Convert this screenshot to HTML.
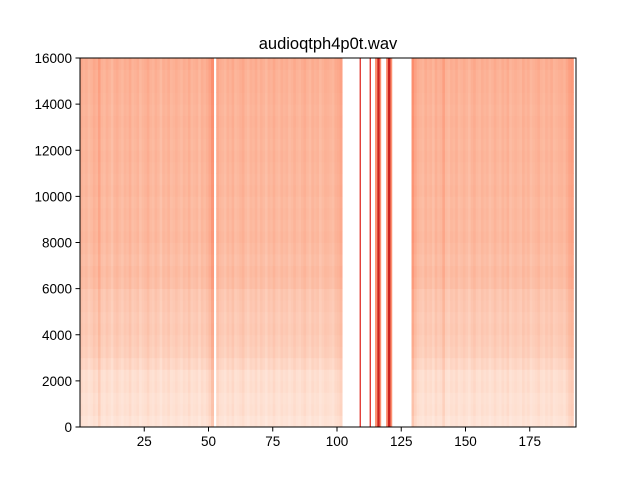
<!DOCTYPE html>
<html><head><meta charset="utf-8"><style>
body{margin:0;background:#fff;}
svg text{font-family:"Liberation Sans","DejaVu Sans",sans-serif;fill:#000;}
</style></head><body>
<svg id="chart" width="640" height="480" viewBox="0 0 640 480" xmlns="http://www.w3.org/2000/svg">
<rect width="640" height="480" fill="#fff"/>
<text x="328" y="49" font-size="16.5" text-anchor="middle">audioqtph4p0t.wav</text>
<g id="cells"></g>
<g id="events"></g>
<g id="axes"></g>
</svg>
<script>
// time-column intensity offsets (null = silence / white gap)
const colOffset = [0.05,0,0.02,-0.03,0,0.05,0.02,0.12,0,-0.02,0.03,0,-0.05,0.02,0.04,0,-0.03,0.02,0,0.05,-0.02,0,0.03,-0.04,0,0.02,0.06,0,-0.02,0.03,0,-0.05,0.02,0,0.04,-0.02,0,0.03,0,-0.03,0.02,0,0.05,-0.02,0,0.02,-0.04,0.03,0,0.04,0.1,
0.22,null,
0.08,0.02,0,-0.03,0.03,0,0.05,-0.02,0,0.03,0.06,0,-0.03,0.02,0,0.04,-0.02,0.03,0,-0.04,0.02,0,0.05,0,-0.02,0.03,0,0.02,-0.03,0,0.04,0,-0.02,0.02,0.05,0,-0.03,0.03,0,0.02,-0.04,0,0.03,0.02,0,-0.02,0.04,0.06,0.1,
null,null,null,null,null,null,null,null,null,null,null,null,null,null,null,null,null,null,null,null,null,null,null,null,null,null,null,
0.22,0.1,0.03,0,-0.02,0.04,0,0.02,-0.03,0.05,0,0.02,0.12,0,-0.03,0.02,0,0.04,-0.02,0,0.03,0,-0.04,0.02,0.05,0,-0.02,0.03,0,0.02,-0.03,0,0.04,0,-0.02,0.03,0,0.05,-0.03,0,0.02,0,-0.02,0.04,0,0.03,-0.03,0,0.02,0.05,0,-0.02,0.03,0,0.04,-0.02,0,0.02,0.03,0,0.06,0.12,
0.15,null];
// frequency-band base levels, 500 Hz per row, from 0 Hz upward
const freqLevel = [0.2,0.24,0.23,0.26,0.25,0.31,0.36,0.38,0.4,0.39,0.41,0.42,0.47,0.49,0.47,0.49,0.51,0.5,0.51,0.5,0.52,0.51,0.52,0.53,0.52,0.53,0.54,0.53,0.54,0.55,0.55,0.57];
// isolated events in silent region (time units) and their intensities
const eventStart = [108.8,112.7,114.8,115.7,119.1,119.8];
const eventEnd   = [109.3,113.2,117.2,116.6,121.5,120.8];
const eventLevel = [1.15,1.15,0.75,1.2,0.75,1.2];
const xTicks = [25,50,75,100,125,150,175];
const yTicks = [0,2000,4000,6000,8000,10000,12000,14000,16000];

const L=80,R=576,T=58,B=427, XMIN=0, XMAX=193, YMAX=16000;
const xs=v=>L+(v-XMIN)/(XMAX-XMIN)*(R-L);
const ys=v=>B-v/YMAX*(B-T);
const stops=[[0,[255,245,240]],[0.25,[254,224,210]],[0.5,[252,187,161]],[0.75,[252,146,114]],[1,[251,106,74]],[1.15,[222,45,38]],[1.3,[165,15,21]]];
function color(v){v=Math.max(0,Math.min(1.3,v));for(let i=1;i<stops.length;i++){if(v<=stops[i][0]){const a=stops[i-1],b=stops[i],t=(v-a[0])/(b[0]-a[0]);return 'rgb('+a[1].map((c,k)=>Math.round(c+(b[1][k]-c)*t)).join(',')+')';}}return 'rgb(165,15,21)';}
const NS='http://www.w3.org/2000/svg';
const cells=document.getElementById('cells');
const rowH=YMAX/freqLevel.length;
colOffset.forEach((o,c)=>{
  if(o===null)return;
  const x0=xs(c),x1=xs(c+1);
  freqLevel.forEach((f,r)=>{
    const el=document.createElementNS(NS,'rect');
    
    
    el.setAttribute('x',x0);el.setAttribute('width',x1-x0+0.4);
    el.setAttribute('y',ys((r+1)*rowH));el.setAttribute('height',ys(r*rowH)-ys((r+1)*rowH)+0.4);
    el.setAttribute('fill',color(f+o));
    cells.appendChild(el);
  });
});
const ev=document.getElementById('events');
eventStart.forEach((s,i)=>{
  const el=document.createElementNS(NS,'rect');
  
  
  el.setAttribute('x',xs(s));el.setAttribute('width',xs(eventEnd[i])-xs(s));
  el.setAttribute('y',T);el.setAttribute('height',B-T);
  el.setAttribute('fill',color(eventLevel[i]));
  ev.appendChild(el);
});
const ax=document.getElementById('axes');
ax.innerHTML='<rect x="'+L+'" y="'+T+'" width="'+(R-L)+'" height="'+(B-T)+'" fill="none" stroke="#000" stroke-width="1"/>';
xTicks.forEach(t=>{
  const x=xs(t);
  const l=document.createElementNS(NS,'line');
  
  
  l.setAttribute('x1',x);l.setAttribute('x2',x);l.setAttribute('y1',B);l.setAttribute('y2',B+4.5);l.setAttribute('stroke','#000');
  ax.appendChild(l);
  const tx=document.createElementNS(NS,'text');
  
  
  tx.setAttribute('x',x);tx.setAttribute('y',B+19);tx.setAttribute('font-size','13.5');tx.setAttribute('text-anchor','middle');
  tx.textContent=t;ax.appendChild(tx);
});
yTicks.forEach(t=>{
  const y=ys(t);
  const l=document.createElementNS(NS,'line');
  
  
  l.setAttribute('x1',L-4.5);l.setAttribute('x2',L);l.setAttribute('y1',y);l.setAttribute('y2',y);l.setAttribute('stroke','#000');
  ax.appendChild(l);
  const tx=document.createElementNS(NS,'text');
  
  
  tx.setAttribute('x',L-8);tx.setAttribute('y',y+5);tx.setAttribute('font-size','13.5');tx.setAttribute('text-anchor','end');
  tx.textContent=t;ax.appendChild(tx);
});
</script>
</body></html>
